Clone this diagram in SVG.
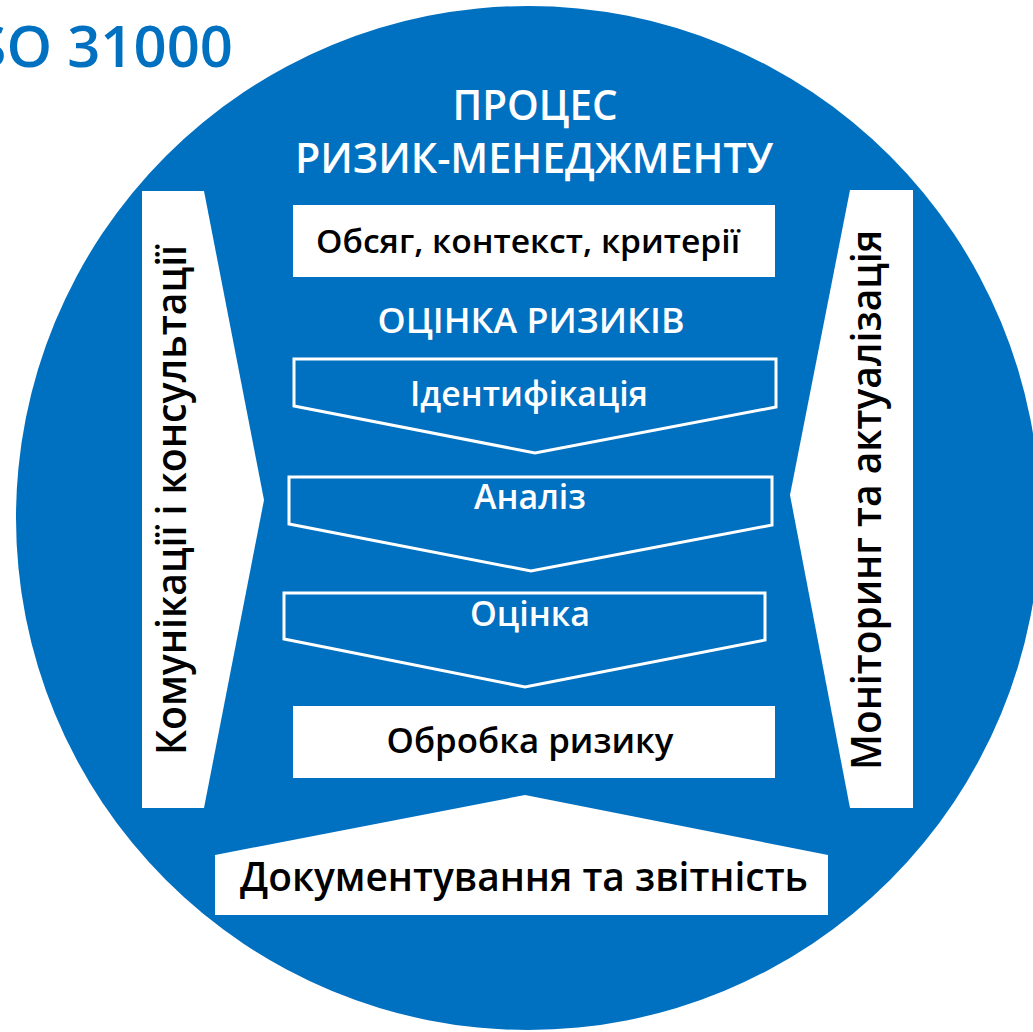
<svg xmlns="http://www.w3.org/2000/svg" width="1033" height="1032" viewBox="0 0 1033 1032">
<style>
.t{font-family:"Open Sans","Noto Sans","DejaVu Sans",sans-serif;font-weight:600}
.w{fill:#ffffff}
.k{fill:#000000}
.ch{fill:#0070C0;stroke:#ffffff;stroke-width:3;stroke-linejoin:miter}
</style>
<rect width="1033" height="1032" fill="#ffffff"/>
<g id="title"><text class="t" x="233" y="67" font-size="58" fill="#0070C0" text-anchor="end">ISO 31000</text></g>
<g id="circle"><circle cx="528" cy="518" r="512" fill="#0070C0"/></g>
<g id="heading">
<text class="t w" x="535" y="120" font-size="41" text-anchor="middle" textLength="165" lengthAdjust="spacingAndGlyphs">ПРОЦЕС</text>
<text class="t w" x="534" y="173" font-size="41" text-anchor="middle" textLength="478" lengthAdjust="spacingAndGlyphs">РИЗИК-МЕНЕДЖМЕНТУ</text>
</g>
<g id="comm">
<polygon class="w" points="142,191 204,191 264,500 204,808 142,808"/>
<text class="t k" transform="translate(186,500) rotate(-90)" font-size="42" text-anchor="middle" textLength="510" lengthAdjust="spacingAndGlyphs">Комунікації і консультації</text>
</g>
<g id="monitor">
<polygon class="w" points="850,190 913,190 913,808 850,808 790,495"/>
<text class="t k" transform="translate(881,500) rotate(-90)" font-size="42" text-anchor="middle" textLength="540" lengthAdjust="spacingAndGlyphs">Моніторинг та актуалізація</text>
</g>
<g id="scope">
<rect x="293" y="205" width="482" height="72" class="w"/>
<text class="t k" x="528" y="253" font-size="32" text-anchor="middle" textLength="424" lengthAdjust="spacingAndGlyphs">Обсяг, контекст, критерії</text>
</g>
<g id="assess"><text class="t w" x="531" y="333" font-size="35" text-anchor="middle" textLength="307" lengthAdjust="spacingAndGlyphs">ОЦІНКА РИЗИКІВ</text></g>
<g id="ident">
<polygon class="ch" points="294,359 776,359 776,407 535,453 294,406"/>
<text class="t w" x="529" y="406" font-size="34" text-anchor="middle" textLength="238" lengthAdjust="spacingAndGlyphs">Ідентифікація</text>
</g>
<g id="analysis">
<polygon class="ch" points="289,477 772,477 772,525 531,571 289,524"/>
<text class="t w" x="530" y="509" font-size="34" text-anchor="middle" textLength="112" lengthAdjust="spacingAndGlyphs">Аналіз</text>
</g>
<g id="evaluation">
<polygon class="ch" points="284,593 765,593 765,640 525,687 284,639"/>
<text class="t w" x="530" y="626" font-size="34" text-anchor="middle" textLength="120" lengthAdjust="spacingAndGlyphs">Оцінка</text>
</g>
<g id="treatment">
<rect x="293" y="706" width="482" height="72" class="w"/>
<text class="t k" x="530" y="753" font-size="34" text-anchor="middle" textLength="287" lengthAdjust="spacingAndGlyphs">Обробка ризику</text>
</g>
<g id="report">
<polygon class="w" points="215,855 525,795 828,855 828,915 215,915"/>
<text class="t k" x="524" y="891" font-size="39" text-anchor="middle" textLength="568" lengthAdjust="spacingAndGlyphs">Документування та звітність</text>
</g>
<g id="connectors"></g>
</svg>
